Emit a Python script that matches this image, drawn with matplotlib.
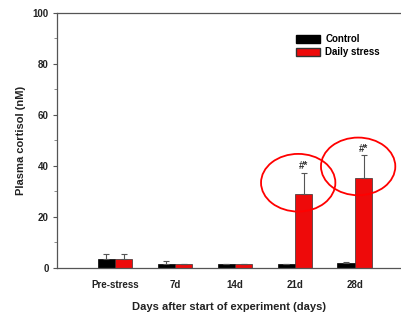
import matplotlib.pyplot as plt
import numpy as np
from matplotlib.patches import Ellipse, Patch
from matplotlib.ticker import MultipleLocator

plt.rcParams['font.family'] = ['Liberation Sans', 'DejaVu Sans']

groups = ["Pre-stress", "7d", "14d", "21d", "28d"]
control = [3.4, 1.7, 1.6, 1.6, 2.0]
control_err = [2.0, 0.9, 0.0, 0.0, 0.3]
stress = [3.4, 1.7, 1.6, 29.0, 35.4]
stress_err = [2.0, 0.0, 0.0, 8.4, 8.9]
marks = ["", "", "", "#*", "#*"]

x = np.arange(len(groups))
w = 0.29

fig = plt.figure(figsize=(4.01, 3.13), dpi=100)
ax = fig.add_axes([0.142, 0.144, 0.858, 0.815])

err_kw = dict(ecolor="#555555", elinewidth=0.8, capsize=2.5, capthick=0.8)
ax.bar(x - w / 2, control, w, color="black", edgecolor="black", lw=0.5,
       yerr=[np.zeros(len(x)), control_err], error_kw=err_kw, label="Control")
ax.bar(x + w / 2, stress, w, color="#ee0a0a", edgecolor="#333333", lw=0.5,
       yerr=[np.zeros(len(x)), stress_err], error_kw=err_kw, label="Daily stress")

for i, m in enumerate(marks):
    if m:
        ax.text(x[i] + w / 2, stress[i] + stress_err[i] + 0.5, m, ha="center",
                va="bottom", fontsize=7, fontweight="bold", color="#333333")
        # red highlight circle around the significant bars
        ax.add_patch(Ellipse((x[i] + w / 2 - 0.09, stress[i] + 4.4), 1.24, 22.6,
                             fill=False, edgecolor="red", lw=1.3, clip_on=False))

ax.set_xlim(-0.97, 4.77)
ax.set_ylim(0, 100)
ax.set_xticks(x)
ax.set_xticklabels(groups)
ax.yaxis.set_major_locator(MultipleLocator(20))
ax.yaxis.set_minor_locator(MultipleLocator(10))

for lab in ax.get_xticklabels() + ax.get_yticklabels():
    lab.set_fontweight("bold")
    lab.set_fontsize(7)
    lab.set_color("#222222")

ax.tick_params(axis="x", length=0, pad=9)
ax.tick_params(axis="y", which="major", length=3, width=0.8, color="#555555", pad=3)
ax.tick_params(axis="y", which="minor", length=2, width=0.6, color="#777777")

ax.spines["right"].set_visible(False)
for s in ["left", "top", "bottom"]:
    ax.spines[s].set_color("#555555")
    ax.spines[s].set_linewidth(0.9)

ax.set_xlabel("Days after start of experiment (days)", fontsize=8,
              fontweight="bold", labelpad=8, color="#222222")
ax.set_ylabel("Plasma cortisol (nM)", fontsize=8, fontweight="bold",
              labelpad=5, color="#222222")

handles = [Patch(facecolor="black", edgecolor="black"),
           Patch(facecolor="#ee0a0a", edgecolor="#333333")]
ax.legend(handles, ["Control", "Daily stress"], loc="upper left",
          bbox_to_anchor=(0.67, 0.95), frameon=False, handlelength=2.4,
          handleheight=0.8, handletextpad=0.6, labelspacing=0.3,
          prop={"size": 7, "weight": "bold"})

fig.savefig("out.png", dpi=100)
